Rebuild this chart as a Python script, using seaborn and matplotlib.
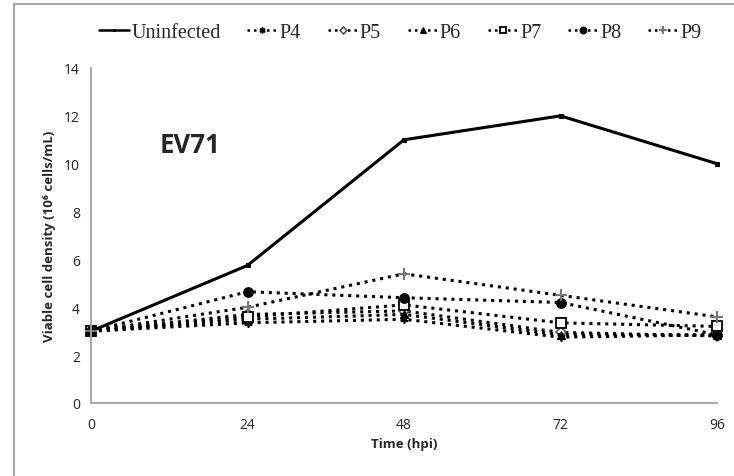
import matplotlib
matplotlib.use("Agg")
import matplotlib.pyplot as plt
import seaborn as sns
from matplotlib.lines import Line2D

# values
hours = [0, 24, 48, 72, 96]
uninfected = [3.0, 5.75, 11.0, 12.0, 10.0]
p4 = [3.0, 3.35, 3.5, 2.75, 2.85]
p5 = [3.0, 3.7, 3.85, 2.95, 2.8]
p6 = [3.0, 3.5, 3.7, 2.85, 2.85]
p7 = [3.0, 3.6, 4.1, 3.35, 3.2]
p8 = [3.0, 4.65, 4.4, 4.2, 2.85]
p9 = [3.0, 4.0, 5.4, 4.5, 3.6]

series_names = ["Uninfected", "P4", "P5", "P6", "P7", "P8", "P9"]
series_vals = [uninfected, p4, p5, p6, p7, p8, p9]

y_ticks = [0, 2, 4, 6, 8, 10, 12, 14]

sns.set_style("white")
plt.rcParams['font.family'] = ['Open Sans', 'DejaVu Sans']

fig = plt.figure(figsize=(7.34, 4.77), dpi=100)
ax = fig.add_axes([91/734, 1-404/477, 626/734, 335/477])

dotted = (0, (1, 1.6))
styles = {
    "Uninfected": dict(ls='-', lw=2.2, marker='s', ms=3, mfc='black', mec='black'),
    "P4": dict(ls=dotted, lw=2.2, marker=(6, 2, 0), ms=6, mec='black', mew=1.2),
    "P5": dict(ls=dotted, lw=2.2, marker='D', ms=5, mfc='white', mec='#555555', mew=1.2),
    "P6": dict(ls=dotted, lw=2.2, marker='^', ms=6, mfc='black', mec='black'),
    "P7": dict(ls=dotted, lw=2.2, marker='s', ms=7, mfc='white', mec='black', mew=1.3),
    "P8": dict(ls=dotted, lw=2.2, marker='o', ms=7, mfc='black', mec='black'),
    "P9": dict(ls=dotted, lw=2.2, marker='+', ms=8, mec='#777777', mew=1.5),
}

for name, vals in zip(series_names, series_vals):
    sns.lineplot(x=hours, y=vals, ax=ax, color='black', label=name,
                 clip_on=False, **styles[name])

ax.set_xlim(0, 96)
ax.set_ylim(0, 14)
ax.set_xticks(hours)
ax.set_yticks(y_ticks)
ax.tick_params(axis='both', labelsize=10, colors='#222222', length=5,
               width=1, direction='out', pad=3)
ax.tick_params(axis='both', color='#A0A0A0')
ax.tick_params(axis='x', pad=5)
for side in ['top', 'right']:
    ax.spines[side].set_visible(False)
for side in ['left', 'bottom']:
    ax.spines[side].set_color('#A0A0A0')
    ax.spines[side].set_linewidth(1.3)

ax.set_xlabel("Time (hpi)", fontsize=9.5, fontweight='bold', labelpad=4)
ax.set_ylabel("Viable cell density (10⁶ cells/mL)", fontsize=9.5,
              fontweight='bold', labelpad=6)

ax.text(0.11, 0.773, "EV71", transform=ax.transAxes, fontsize=18.5,
        fontweight='bold', va='center', ha='left')

leg = ax.legend(loc='center', bbox_to_anchor=(0.494, (477-33-73)/335),
                ncol=7, frameon=False, handlelength=1.5, handletextpad=0.1,
                columnspacing=1.33, borderaxespad=0,
                prop={'family': 'Liberation Serif', 'size': 14.5})
for h in leg.legend_handles:
    h.set_markersize(h.get_markersize() * 0.7)
    h.set_linewidth(1.8)

# thin grey frame at the top-left of the canvas
fig.add_artist(Line2D([14/734, 1], [1-5/477, 1-5/477], color='#A6A6A6', lw=1.5))
fig.add_artist(Line2D([14/734, 14/734], [0, 1-5/477], color='#A6A6A6', lw=1.5))

fig.savefig("out.png", dpi=100)
